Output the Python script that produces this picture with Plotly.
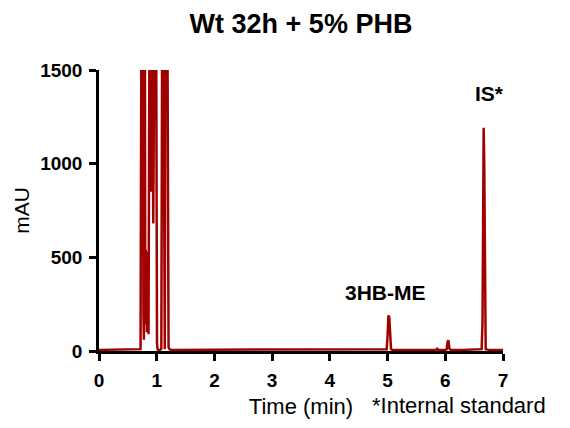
import plotly.graph_objects as go

# Chromatogram trace (time in min, absorbance in mAU); values above 1500 are off-scale (detector saturated)
time_min = [0.00, 0.30, 0.60, 0.70, 0.720, 0.735, 0.750, 0.760, 0.770, 0.778, 0.786, 0.795, 0.802,
            0.810, 0.816, 0.824, 0.830, 0.838, 0.845, 0.852, 0.858, 0.866, 0.875, 0.890, 0.905,
            0.915, 0.925, 0.940, 0.952, 0.962, 0.975, 0.990, 1.005, 1.015, 1.030, 1.060, 1.080,
            1.095, 1.115, 1.130, 1.140, 1.150, 1.160, 1.185, 1.205, 1.225, 1.260, 1.500, 2.000,
            2.500, 3.000, 3.500, 4.000, 4.500, 4.950, 4.985, 5.000, 5.015, 5.030, 5.045, 5.060,
            5.090, 5.500, 5.840, 5.860, 5.880, 6.000, 6.025, 6.040, 6.055, 6.070, 6.090, 6.300,
            6.600, 6.630, 6.645, 6.655, 6.665, 6.675, 6.685, 6.700, 6.750, 7.000]
absorbance_mau = [6, 6, 6, 7, 10, 1800, 1800, 1800, 200, 60, 1800, 1800, 140,
                  540, 180, 520, 100, 500, 160, 530, 90, 1800, 1800, 1800, 850,
                  1800, 1800, 680, 1800, 1800, 1800, 1800, 40, 8, 6, 6, 12,
                  1800, 1800, 25, 10, 1800, 1800, 1800, 20, 8, 6, 6, 6,
                  6, 6, 6, 6, 6, 6, 10, 80, 190, 180, 50, 10,
                  6, 6, 6, 12, 6, 6, 10, 50, 57, 15, 6, 6,
                  6, 10, 150, 900, 1192, 1000, 200, 10, 6, 6]

x_ticks = [0, 1, 2, 3, 4, 5, 6, 7]
y_ticks = [0, 500, 1000, 1500]

peak_labels = ["3HB-ME", "IS*"]
peak_label_x = [4.97, 6.76]
peak_label_y = [314, 1374]

title_text = "Wt 32h + 5% PHB"
x_title = "Time (min)"
y_title = "mAU"
footnote = "*Internal standard"

FONT = "Liberation Sans, Arial, sans-serif"
LINE_COLOR = "#A00000"

W, H = 562, 420
ML, MR, MT, MB = 85, 67, 62, 74
PW, PH = W - ML - MR, H - MT - MB

fig = go.Figure()
fig.add_trace(go.Scatter(x=time_min, y=absorbance_mau, mode="lines",
                         line=dict(color=LINE_COLOR, width=2.5), showlegend=False,
                         hoverinfo="skip"))

for txt, px, py in zip(peak_labels, peak_label_x, peak_label_y):
    fig.add_annotation(x=px, y=py, xref="x", yref="y", text=txt, showarrow=False,
                       font=dict(family=FONT, size=21, color="black", weight="bold"),
                       xanchor="center", yanchor="middle")

# footnote placed relative to the plot area (page coords: centre x 458, y 409)
fig.add_annotation(x=(458 - 8 - ML) / PW, y=(MT + PH - (409 - 8)) / PH, xref="paper", yref="paper",
                   text=footnote, showarrow=False, xanchor="center", yanchor="middle",
                   font=dict(family=FONT, size=22, color="black"))

axis_common = dict(showline=True, linecolor="black", linewidth=2.5, ticks="outside",
                   ticklen=7, tickwidth=2.5, tickcolor="black", showgrid=False,
                   zeroline=False, layer="below traces", ticklabelstandoff=3,
                   tickfont=dict(family=FONT, size=19, color="black", weight="bold"))

fig.update_layout(
    width=W, height=H,
    margin=dict(l=ML, r=MR, t=MT, b=MB),
    paper_bgcolor="white", plot_bgcolor="white",
    title=dict(text=title_text, x=(301 - 8) / W, xanchor="center", y=1 - (24 - 8) / H, yanchor="middle",
               font=dict(family=FONT, size=27, color="black", weight="bold")),
    xaxis=dict(range=[0, 7], tickvals=x_ticks, ticktext=[str(v) for v in x_ticks],
               title=dict(text=x_title, standoff=10, font=dict(family=FONT, size=22, color="black")),
               **axis_common),
    yaxis=dict(range=[0, 1500], tickvals=y_ticks, ticktext=[str(v) for v in y_ticks],
               title=dict(text=y_title, standoff=5, font=dict(family=FONT, size=21, color="black")),
               **axis_common),
)

fig.write_html("out.html")
